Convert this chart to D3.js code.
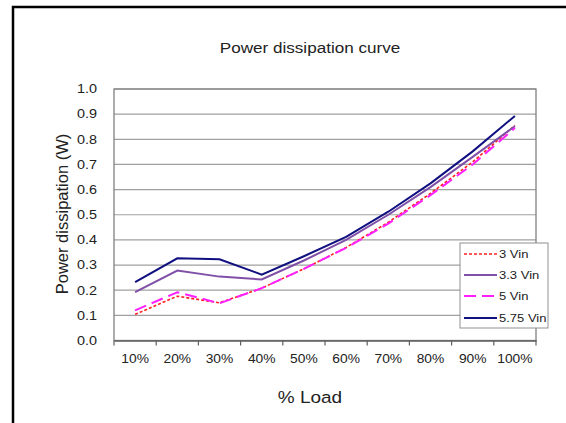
<!DOCTYPE html>
<html><head><meta charset="utf-8">
<script src="https://cdn.jsdelivr.net/npm/d3@7"></script>
<style>body{margin:0;background:#fff}svg{display:block;font-family:"Liberation Sans",Arial,sans-serif}</style>
</head><body><svg id="c" width="566" height="423"></svg>
<script>
const categories = ["10%","20%","30%","40%","50%","60%","70%","80%","90%","100%"];
const seriesNames = ["3 Vin","3.3 Vin","5 Vin","5.75 Vin"];
const v3 = [0.104,0.176,0.150,0.208,0.285,0.370,0.470,0.585,0.710,0.855];
const v33 = [0.192,0.278,0.254,0.243,0.318,0.400,0.500,0.610,0.730,0.852];
const v5 = [0.120,0.192,0.148,0.208,0.285,0.368,0.465,0.578,0.700,0.845];
const v575 = [0.232,0.327,0.323,0.262,0.335,0.412,0.512,0.625,0.752,0.893];
const yTicks = [0,0.1,0.2,0.3,0.4,0.5,0.6,0.7,0.8,0.9,1.0];
const colors = ["#ff2020","#8050a8","#ff20ff","#101080"];
const dashes = ["3,2","none","12,6","none"];
const widths = [1.6,2,2,2];
const allSeries = [v3,v33,v5,v575];

const svg = d3.select("#c");
const FF = "Liberation Sans, Arial, sans-serif";
// outer frame
svg.append("rect").attr("x",13).attr("y",7).attr("width",600).attr("height",500)
  .attr("fill","#fff").attr("stroke","#000").attr("stroke-width",2.5);

const L=114,R=536,T=89,B=340.5;
const x = d3.scaleBand().domain(categories).range([L,R]);
const y = d3.scaleLinear().domain([0,1]).range([B,T]);

// gridlines
svg.append("g").selectAll("line").data(yTicks.slice(1)).join("line")
  .attr("x1",L).attr("x2",R).attr("y1",d=>y(d)).attr("y2",d=>y(d))
  .attr("stroke","#a0a0a0").attr("stroke-width",1.2);
// plot border
svg.append("rect").attr("x",L).attr("y",T).attr("width",R-L).attr("height",B-T)
  .attr("fill","none").attr("stroke","#808080").attr("stroke-width",1.3);

// y axis
const ypad = 17;
const ya = svg.append("g").attr("transform",`translate(${L},0)`)
  .call(d3.axisLeft(y).tickValues(yTicks).tickFormat(d3.format(".1f")).tickSize(0).tickPadding(ypad));
ya.select(".domain").remove();
ya.selectAll("text").attr("font-size",12).attr("fill","#222").attr("font-family",FF)
  .attr("x",0).attr("transform",`translate(${-ypad},0) scale(1.2,1)`);

// x axis
const xa = svg.append("g").attr("transform",`translate(0,${B})`)
  .call(d3.axisBottom(x).tickSize(0).tickPadding(14));
xa.select(".domain").attr("stroke","#606060").attr("stroke-width",1.3);
xa.selectAll("text").attr("font-size",12).attr("fill","#222").attr("font-family",FF)
  .attr("transform","scale(1.15,1)");
svg.append("g").selectAll("line").data(d3.range(categories.length+1)).join("line")
  .attr("x1",i=>L+i*x.step()).attr("x2",i=>L+i*x.step())
  .attr("y1",B).attr("y2",B+5).attr("stroke","#606060").attr("stroke-width",1.2);

// lines
const line = d3.line().x((d,i)=>x(categories[i])+x.bandwidth()/2).y(d=>y(d));
allSeries.forEach((s,k)=>{
  svg.append("path").datum(s).attr("d",line).attr("fill","none")
    .attr("stroke",colors[k]).attr("stroke-width",widths[k])
    .attr("stroke-dasharray",dashes[k]);
});

// titles
svg.append("text").attr("transform","translate(310,53) scale(1.18,1)").attr("text-anchor","middle")
  .attr("font-size",14.5).attr("fill","#222").text("Power dissipation curve");
svg.append("text").attr("transform","translate(68,214) rotate(-90)").attr("text-anchor","middle")
  .attr("font-size",16.5).attr("fill","#222").text("Power dissipation (W)");
svg.append("text").attr("transform","translate(310,403) scale(1.15,1)").attr("text-anchor","middle")
  .attr("font-size",16.5).attr("fill","#222").text("% Load");

// legend
const lg = svg.append("g");
lg.append("rect").attr("x",460).attr("y",243).attr("width",88).attr("height",85)
  .attr("fill","#fff").attr("stroke","#909090").attr("stroke-width",1);
const ly = [254,275,296,318];
seriesNames.forEach((n,k)=>{
  lg.append("line").attr("x1",464).attr("x2",497).attr("y1",ly[k]).attr("y2",ly[k])
    .attr("stroke",colors[k]).attr("stroke-width",widths[k]).attr("stroke-dasharray",dashes[k]);
  lg.append("text").attr("transform",`translate(499,${ly[k]+4}) scale(1.24,1)`)
    .attr("font-size",10.5).attr("fill","#222").text(n);
});
</script></body></html>
